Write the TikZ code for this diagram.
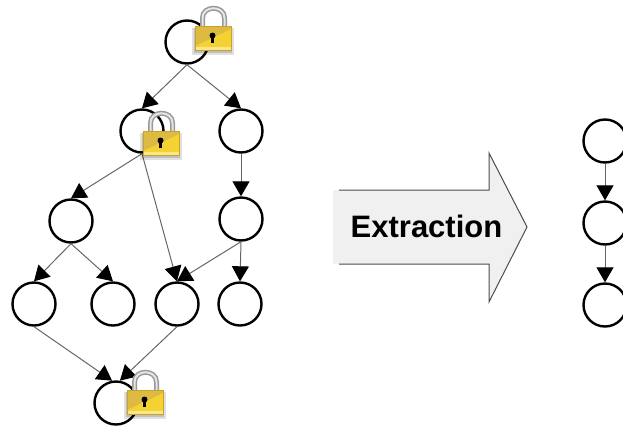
\documentclass[tikz,border=0pt]{standalone}
\usepackage{fontspec}
\usepackage{xcolor}
\usepackage{tikz}
\usetikzlibrary{arrows.meta}
\setmainfont{Liberation Sans}
\definecolor{lock-gold}{HTML}{F3D232}
\definecolor{lock-dark}{HTML}{DDBB42}
\definecolor{lock-light}{HTML}{F8E88A}
\definecolor{lock-edge}{HTML}{C9A227}
\definecolor{arrow-fill}{HTML}{F0F0F0}
\tikzset{
    graph-node/.style = {draw=black, fill=none, circle, line width=2.4pt, minimum size=43pt, inner sep=0pt},
    graph-edge/.style = {draw=black!60, line width=1pt, -{Triangle[length=15pt,width=17pt,fill=black,color=black]}},
    extract-arrow/.style = {draw=black!70, line width=1pt},
    extract-label/.style = {font=\bfseries\fontsize{31}{31}\selectfont, inner sep=0pt},
    lock/.pic = {
        \fill[black, opacity=0.12] (-3,2) rectangle (39,29);
        \fill[black, opacity=0.15] (-1,2) rectangle (37,27);
        \draw[black!40, line width=5pt] (7.5,2) -- (7.5,-8) .. controls (7.5,-21) and (29.5,-21) .. (29.5,-8) -- (29.5,2);
        \draw[black!10, line width=2pt] (7.5,2) -- (7.5,-8) .. controls (7.5,-21) and (29.5,-21) .. (29.5,-8) -- (29.5,2);
        \fill[lock-gold] (0,0) rectangle (36,24);
        \fill[lock-dark] (0,0) -- (36,0) -- (36,3) -- (0,20) -- cycle;
        \fill[lock-light] (0,21) rectangle (36,24);
        \draw[lock-edge, line width=0.6pt] (0,0) rectangle (36,24);
        \fill[black] (17.5,9.5) circle (3pt);
        \fill[black] (16.2,9.5) rectangle (18.8,17);
    },
}

\begin{document}
\begin{tikzpicture}[x=1pt, y=-1pt]
\useasboundingbox (0,0) rectangle (623,426);
% source graph
\node[graph-node] (root) at (187,42) {};
\node[graph-node] (left) at (142,131) {};
\node[graph-node] (right) at (241,131) {};
\node[graph-node] (mid) at (71,221) {};
\node[graph-node] (chain) at (241,219) {};
\node[graph-node] (leaf-a) at (34,304) {};
\node[graph-node] (leaf-b) at (113,304) {};
\node[graph-node] (leaf-c) at (177,304) {};
\node[graph-node] (leaf-d) at (240,304) {};
\node[graph-node] (sink) at (116,403) {};
\draw[graph-edge] (root.south) -- (left.north);
\draw[graph-edge] (root.south) -- (right.north);
\draw[graph-edge] (left.south) -- (mid.north);
\draw[graph-edge] (left.south) -- (leaf-c.north);
\draw[graph-edge] (right.south) -- (chain.north);
\draw[graph-edge] (chain.south) -- (leaf-c.north);
\draw[graph-edge] (chain.south) -- (leaf-d.north);
\draw[graph-edge] (mid.south) -- (leaf-a.north);
\draw[graph-edge] (mid.south) -- (leaf-b.north);
\draw[graph-edge] (leaf-a.south) -- (sink.100);
\draw[graph-edge] (leaf-c.south) -- (sink.80);
% locks
\pic at (195,26) {lock};
\pic at (143,131) {lock};
\pic at (127,390) {lock};
% extraction arrow
\fill[arrow-fill] (333,190) -- (489,190) -- (489,153) -- (527,227) -- (489,302) -- (489,264) -- (333,264) -- cycle;
\draw[extract-arrow] (339,190) -- (489,190) -- (489,153) -- (527,227) -- (489,302) -- (489,264) -- (339,264);
\node[extract-label] (extract) at (426.5,226) {Extraction};
% extracted chain
\node[graph-node] (top) at (605,141) {};
\node[graph-node] (centre) at (605,223) {};
\node[graph-node] (bottom) at (605,305) {};
\draw[graph-edge] (top.south) -- (centre.north);
\draw[graph-edge] (centre.south) -- (bottom.north);
\end{tikzpicture}
\end{document}
